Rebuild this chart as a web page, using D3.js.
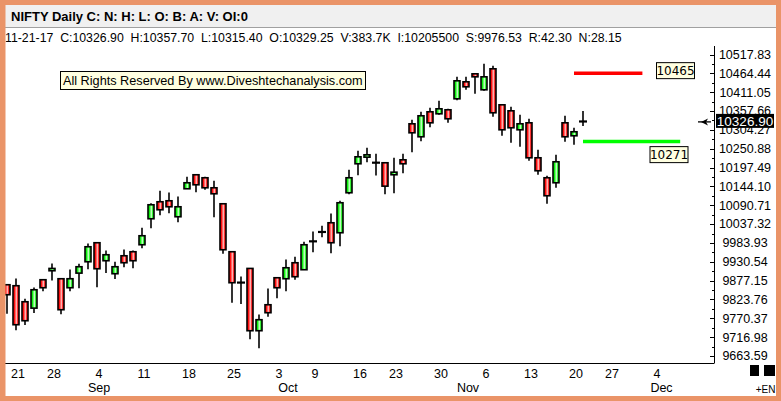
<!DOCTYPE html>
<html><head><meta charset="utf-8">
<script src="https://cdn.jsdelivr.net/npm/d3@7"></script>
<style>html,body{margin:0;padding:0;background:#fff}svg{display:block}</style>
</head><body><svg id="c" width="781" height="401"></svg>
<script>
// ---- data (trading-day index 0 = 21 Aug 2017) ----
const dayIndex = d3.range(-1, 64);
const opens  = [9865.5,9862.7,9817.3,9799.2,9879.7,9905.1,9882.5,9857.0,9898.4,9930.6,9984.5,9933.5,9896.7,9947.6,9959.0,9978.8,10052.4,10100.6,10103.4,10058.1,10137.4,10177.1,10168.6,10140.2,10094.9,9959.0,9872.0,9911.7,9735.2,9808.8,9885.3,9882.5,9927.8,9908.0,9988.1,10014.5,10041.1,10012.8,10126.1,10208.2,10226.9,10211.1,10211.1,10177.1,10219.5,10321.5,10284.7,10355.5,10349.8,10361.2,10392.3,10440.5,10463.1,10417.8,10477.3,10375.3,10358.3,10304.5,10324.3,10225.2,10168.6,10154.4,10324.3,10287.5,10329.25];
const highs  = [9866.5,9883.3,9825.9,9857.9,9880.5,9925.8,9883.0,9908.8,9925.0,9982.5,9985.0,9962.6,9930.6,9965.5,9962.6,10026.9,10096.6,10131.7,10126.9,10115.6,10171.4,10177.5,10171.4,10160.1,10095.5,9959.5,9889.0,9912.0,9781.4,9855.0,9885.8,9937.2,9944.8,9987.3,10016.5,10032.6,10067.4,10103.4,10191.2,10245.0,10253.5,10236.5,10211.5,10225.2,10236.5,10332.8,10355.5,10366.8,10386.7,10364.0,10454.6,10454.6,10463.5,10491.5,10485.8,10375.8,10369.7,10347.0,10335.7,10247.9,10174.2,10233.7,10344.2,10310.2,10357.70];
const lows   = [9783.4,9736.9,9751.1,9785.1,9847.4,9877.7,9782.2,9847.4,9855.9,9909.7,9858.7,9898.4,9881.4,9915.3,9912.5,9969.2,10025.8,10062.6,10068.3,10042.8,10136.5,10127.8,10134.6,10057.0,9953.3,9814.5,9811.1,9711.4,9685.9,9774.9,9827.5,9847.4,9879.7,9907.5,9957.8,10000.3,9955.0,9974.8,10122.1,10175.9,10212.7,10175.1,10122.1,10124.9,10181.6,10241.1,10272.2,10311.9,10347.0,10324.3,10388.4,10417.8,10406.5,10415.0,10341.3,10287.5,10267.7,10256.4,10216.7,10177.1,10094.9,10140.2,10270.5,10262.0,10315.40];
const closes = [9837.2,9752.2,9763.5,9851.3,9857.0,9911.7,9794.7,9882.5,9916.5,9973.1,9910.8,9950.5,9916.5,9927.8,9933.5,10004.3,10092.1,10077.9,10086.4,10086.4,10154.4,10148.7,10140.2,10123.2,9964.6,9871.2,9871.2,9735.2,9766.4,9786.2,9857.0,9913.6,9888.2,9978.8,9988.8,10015.5,9984.5,10097.8,10168.6,10228.0,10233.7,10211.5,10144.8,10184.4,10208.2,10296.0,10344.2,10324.3,10364.0,10335.7,10443.3,10426.3,10454.6,10454.6,10352.7,10304.5,10310.2,10321.5,10225.2,10188.4,10117.6,10213.9,10284.7,10298.9,10326.90];

const yTickValues = [10517.83,10464.44,10411.05,10357.66,10304.27,10250.88,10197.49,10144.10,10090.71,10037.32,9983.93,9930.54,9877.15,9823.76,9770.37,9716.98,9663.59];
const dayTickIdx    = [0,4,9,14,19,24,29,33,38,42,47,52,57,62,66,71];
const dayTickLabels = ["21","28","4","11","18","25","3","9","16","23","30","6","13","20","27","4"];
const monthTickIdx    = [9,30,50,71.5];
const monthTickLabels = ["Sep","Oct","Nov","Dec"];
const levels      = [10465, 10271];
const levelLabels = ["10465","10271"];
const lastPrice = 10326.90;
const titleText = "NIFTY Daily C: N: H: L: O: B: A: V: OI:0";
const infoText  = "11-21-17  C:10326.90  H:10357.70  L:10315.40  O:10329.25  V:383.7K  I:10205500  S:9976.53  R:42.30  N:28.15";
const watermark = "All Rights Reserved By www.Diveshtechanalysis.com";

// ---- drawing ----
const svg = d3.select("#c");
const FONT = "'Liberation Sans', Arial, sans-serif";
const W = 781, H = 401;
const x = d3.scaleLinear().domain([-1, 63]).range([7, 583]);
const y = d3.scaleLinear().domain([9663.59, 10517.83]).range([356, 54.5]);

const defs = svg.append("defs");
function grad(id, edge, mid){
  const g = defs.append("linearGradient").attr("id", id).attr("x1","0").attr("x2","1").attr("y1","0").attr("y2","0");
  g.append("stop").attr("offset","0%").attr("stop-color",edge);
  g.append("stop").attr("offset","30%").attr("stop-color",edge);
  g.append("stop").attr("offset","55%").attr("stop-color",mid);
  g.append("stop").attr("offset","80%").attr("stop-color",edge);
  g.append("stop").attr("offset","100%").attr("stop-color",edge);
}
grad("gRed", "#FF1010", "#FFC8C8");
grad("gGreen", "#10F010", "#D8FFD8");

svg.append("rect").attr("width",W).attr("height",H).attr("fill","#fff");

// header
svg.append("rect").attr("x",5).attr("y",5).attr("width",771).attr("height",22).attr("fill","#F0F0F0");
svg.append("line").attr("x1",5).attr("x2",776).attr("y1",27.5).attr("y2",27.5).attr("stroke","#A0A0A0");
svg.append("text").attr("x",11).attr("y",21).attr("font-family",FONT).attr("font-size",13).attr("font-weight","bold").attr("fill","#000").text(titleText);
svg.append("text").attr("x",5).attr("y",42).attr("font-family",FONT).attr("font-size",12.3).attr("fill","#000").attr("xml:space","preserve").style("white-space","pre").text(infoText);

// watermark
svg.append("rect").attr("x",60.5).attr("y",71.5).attr("width",305).attr("height",18).attr("fill","#FFFFE1").attr("stroke","#000");
svg.append("text").attr("x",63).attr("y",85).attr("font-family",FONT).attr("font-size",12.7).attr("fill","#000").text(watermark);

// candles
const g = svg.append("g");
dayIndex.forEach((d, i) => {
  const cx = Math.round(x(d));
  const o = opens[i], h = highs[i], l = lows[i], c = closes[i];
  g.append("line").attr("x1",cx).attr("x2",cx).attr("y1",y(h)).attr("y2",y(l)).attr("stroke","#000").attr("stroke-width",1.6);
  const top = y(Math.max(o,c)), bot = y(Math.min(o,c));
  if (bot - top < 1.5) {
    g.append("line").attr("x1",cx-4).attr("x2",cx+4).attr("y1",(top+bot)/2).attr("y2",(top+bot)/2).attr("stroke","#000").attr("stroke-width",2.2);
  } else {
    g.append("rect").attr("x",cx-3).attr("y",top).attr("width",6).attr("height",bot-top)
      .attr("fill", c >= o ? "url(#gGreen)" : "url(#gRed)").attr("stroke","#000").attr("stroke-width",1.6);
  }
});

// level lines
const levelSpan = [[62, 69.6],[63, 73.8]];
const levelColor = ["#FF0000","#00FF00"];
levels.forEach((v,i)=>{
  svg.append("line").attr("x1",x(levelSpan[i][0])).attr("x2",x(levelSpan[i][1])).attr("y1",y(v)).attr("y2",y(v))
    .attr("stroke",levelColor[i]).attr("stroke-width",3.5);
});
const lb = [{x:656, y:y(levels[0])-11},{x:649.5, y:y(levels[1])+4.5}];
levels.forEach((v,i)=>{
  svg.append("rect").attr("x",lb[i].x+0.5).attr("y",lb[i].y+0.5).attr("width",38).attr("height",16).attr("fill","#FFFFE1").attr("stroke","#000");
  svg.append("text").attr("x",lb[i].x+19.5).attr("y",lb[i].y+13).attr("text-anchor","middle").attr("font-family","'DejaVu Sans', sans-serif").attr("font-size",12).attr("fill","#000").text(levelLabels[i]);
});

// right axis
svg.append("line").attr("x1",714.5).attr("x2",714.5).attr("y1",46).attr("y2",363).attr("stroke","#000");
yTickValues.forEach((v,i)=>{
  svg.append("line").attr("x1",710).attr("x2",714).attr("y1",Math.round(y(v))+0.5).attr("y2",Math.round(y(v))+0.5).attr("stroke","#000");
  if (i < yTickValues.length-1) {
    const ym = (y(v)+y(yTickValues[i+1]))/2;
    svg.append("line").attr("x1",712).attr("x2",714).attr("y1",Math.round(ym)+0.5).attr("y2",Math.round(ym)+0.5).attr("stroke","#000");
  }
  svg.append("text").attr("x",745).attr("y",y(v)).attr("dy","0.35em").attr("text-anchor","middle")
    .attr("font-family",FONT).attr("font-size",12.5).attr("fill","#000").text(d3.format(".2f")(v));
});
// last price box (covers neighbouring labels as in the source chart)
const yl = y(lastPrice);
svg.append("rect").attr("x",716).attr("y",yl-8).attr("width",58).attr("height",14).attr("fill","#000");
svg.append("text").attr("x",745).attr("y",yl-1).attr("dy","0.35em").attr("text-anchor","middle").attr("font-family",FONT).attr("font-size",13.5).attr("fill","#fff").text(d3.format(".2f")(lastPrice));
// arrow
svg.append("line").attr("x1",698).attr("x2",711).attr("y1",yl).attr("y2",yl).attr("stroke","#000").attr("stroke-width",1.3);
svg.append("path").attr("d",`M701,${yl} L708,${yl-3.5} L706,${yl} L708,${yl+3.5} Z`).attr("fill","#000");

// bottom axis
svg.append("line").attr("x1",5).attr("x2",714.5).attr("y1",363.5).attr("y2",363.5).attr("stroke","#000");
dayTickIdx.forEach((d,i)=>{
  svg.append("text").attr("x",x(d)+2).attr("y",378).attr("text-anchor","middle").attr("font-family",FONT).attr("font-size",12.5).attr("fill","#000").text(dayTickLabels[i]);
});
monthTickIdx.forEach((d,i)=>{
  svg.append("text").attr("x",x(d)+2).attr("y",392).attr("text-anchor","middle").attr("font-family",FONT).attr("font-size",12.5).attr("fill","#000").text(monthTickLabels[i]);
});
svg.append("rect").attr("x",750).attr("y",365).attr("width",9).attr("height",11).attr("fill","#000");
svg.append("rect").attr("x",764).attr("y",365).attr("width",11).attr("height",11).attr("fill","#000");
svg.append("text").attr("x",775.5).attr("y",393).attr("text-anchor","end").attr("font-family",FONT).attr("font-size",10).attr("fill","#000").text("+EN");

// orange frame
const frame = "#EA9468";
svg.append("rect").attr("x",0).attr("y",0).attr("width",W).attr("height",5).attr("fill",frame);
svg.append("rect").attr("x",0).attr("y",396).attr("width",W).attr("height",5).attr("fill",frame);
svg.append("rect").attr("x",0).attr("y",0).attr("width",5.5).attr("height",H).attr("fill",frame);
svg.append("rect").attr("x",776).attr("y",0).attr("width",5).attr("height",H).attr("fill",frame);
</script>
</body></html>
